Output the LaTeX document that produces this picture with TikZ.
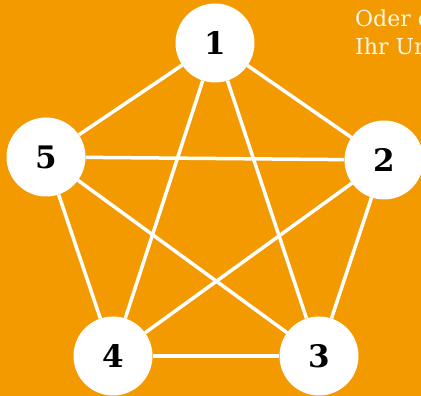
\documentclass[tikz,border=0pt]{standalone}
\usepackage{fontspec}
\setmainfont{DejaVu Serif}
\definecolor{bgorange}{HTML}{F29A00}
\definecolor{cream}{HTML}{FFF6E6}
\begin{document}
\begin{tikzpicture}[x=1pt,y=1pt,
  vertex/.style={circle,fill=white,minimum size=79pt,inner sep=0pt,
    font=\fontsize{31}{31}\selectfont\bfseries},
  edge/.style={white,line width=3.5pt},
  caption/.style={anchor=base west,text=cream,inner sep=0pt,
    font=\fontsize{22}{22}\selectfont}]
  \fill[bgorange] (0,0) rectangle (421,396);
  \useasboundingbox (0,0) rectangle (421,396);
  % caption text running off the right edge
  \begin{scope}
    \clip (0,0) rectangle (421,396);
    \node[caption] (t1) at (355,369) {Oder d};
    \node[caption] (t2) at (355,341) {Ihr Ur};
  \end{scope}
  % the five vertices
  \node[vertex] (n1) at (215,353) {1};
  \node[vertex] (n2) at (384,236) {2};
  \node[vertex] (n3) at (319,40) {3};
  \node[vertex] (n4) at (113,40) {4};
  \node[vertex] (n5) at (46,239) {5};
  % every pair joined
  \foreach \a/\b in {n1/n2,n1/n3,n1/n4,n1/n5,n2/n3,n2/n4,n2/n5,n3/n4,n3/n5,n4/n5}
    \draw[edge] (\a) -- (\b);
\end{tikzpicture}
\end{document}
